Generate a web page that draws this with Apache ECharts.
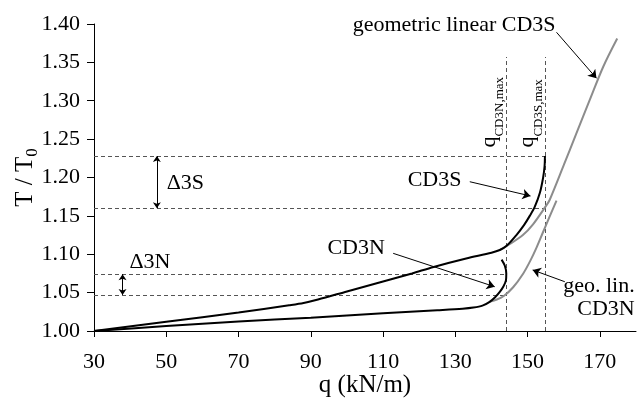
<!DOCTYPE html>
<html>
<head>
<meta charset="utf-8">
<script src="https://cdn.jsdelivr.net/npm/echarts@6/dist/echarts.min.js"></script>
<style>
  html, body { margin: 0; padding: 0; background: #fff; }
  #chart { width: 643px; height: 398px; }
</style>
</head>
<body>
<div id="chart"></div>
<script>
// Axis ticks
const xTicks = [30, 50, 70, 90, 110, 130, 150, 170];

// CD3S (nonlinear analysis)
const cd3sQ = [30, 50, 70, 84, 88, 92, 100, 110, 118, 124, 133, 140, 142.3, 144.2, 146.9, 149, 150.6, 152, 153.4, 154.3, 154.7, 154.8];
const cd3sT = [1.000, 1.012, 1.024, 1.0335, 1.0365, 1.041, 1.0515, 1.0645, 1.075, 1.0835, 1.0945, 1.102, 1.1055, 1.111, 1.125, 1.138, 1.150, 1.162, 1.180, 1.200, 1.215, 1.228];

// CD3N (nonlinear analysis)
const cd3nQ = [30, 50, 70, 90, 110, 125, 132, 135, 137.5, 139.5, 141, 142.3, 143.3, 144.0, 144.1, 143.7, 142.8];
const cd3nT = [1.000, 1.0065, 1.0125, 1.0173, 1.023, 1.027, 1.029, 1.0305, 1.033, 1.038, 1.044, 1.051, 1.058, 1.066, 1.075, 1.085, 1.093];

// geometric linear CD3S
const geoCd3sQ = [142.3, 145, 148.7, 151.5, 154.8, 156.1, 160, 163.5, 167.2, 170.9, 174.8];
const geoCd3sT = [1.1055, 1.113, 1.125, 1.139, 1.161, 1.1707, 1.216, 1.2576, 1.301, 1.344, 1.381];

// geometric linear CD3N
const geoCd3nQ = [139.5, 141.5, 143.5, 146, 148.8, 150.8, 152.5, 154.2, 156, 158];
const geoCd3nT = [1.038, 1.041, 1.046, 1.057, 1.075, 1.092, 1.109, 1.128, 1.148, 1.170];

// Load limits and ratio jumps
const qMaxCd3n = 144;
const qMaxCd3s = 155;
const qLimitTop = 1.357;
const delta3s = [1.160, 1.228];
const delta3n = [1.047, 1.074];

const FONT = '"Liberation Serif", "Times New Roman", serif';
const pair = (qs, ts) => qs.map((q, i) => [q, ts[i]]);

// Guide lines (dashed)
const guides = [
  [[30, delta3s[1]], [qMaxCd3s, delta3s[1]]],
  [[30, delta3s[0]], [qMaxCd3s, delta3s[0]]],
  [[30, delta3n[1]], [qMaxCd3n, delta3n[1]]],
  [[30, delta3n[0]], [qMaxCd3n, delta3n[0]]],
  [[qMaxCd3n, 1.0], [qMaxCd3n, qLimitTop]],
  [[qMaxCd3s, 1.0], [qMaxCd3s, qLimitTop]]
];

// Pointer arrows from labels to curves
const pointers = [
  [[158.0, 1.3892], [169.06, 1.3293]],
  [[134.0, 1.1945], [150.8, 1.1759]],
  [[112.8, 1.1012], [140.9, 1.0577]],
  [[160.3, 1.0642], [151.4, 1.0795]]
];
const deltaArrows = [
  [[47.4, delta3s[0]], [47.4, delta3s[1]]],
  [[37.9, delta3n[0]], [37.9, delta3n[1]]]
];

// Text annotations anchored in data space
const annotations = [
  { text: 'geometric linear CD3S', q: 101.6, t: 1.3983, align: 'left' },
  { text: 'CD3S', q: 131.7, t: 1.1959, align: 'right' },
  { text: 'CD3N', q: 110.5, t: 1.1081, align: 'right' },
  { text: 'geo. lin.', q: 179.65, t: 1.0582, align: 'right' },
  { text: 'CD3N', q: 179.65, t: 1.0278, align: 'right' },
  { text: '\u03943S', q: 50.1, t: 1.1928, align: 'left' },
  { text: '\u03943N', q: 39.8, t: 1.0895, align: 'left' },
  { text: '{m|q}{s|CD3N,max}', q: 139.3, t: 1.239, align: 'left', vertical: true },
  { text: '{m|q}{s|CD3S,max}', q: 149.9, t: 1.239, align: 'left', vertical: true }
];

const curve = (data, color) => ({
  type: 'line',
  data: data,
  showSymbol: false,
  smooth: 0.3,
  lineStyle: { color: color, width: 2 },
  silent: true,
  z: 3
});

const option = {
  animation: false,
  backgroundColor: '#fff',
  grid: { left: 94, right: 7, top: 24, bottom: 67, containLabel: false, outerBoundsMode: 'none' },
  xAxis: {
    type: 'value',
    min: 30,
    max: 180,
    axisLine: { show: true, lineStyle: { color: '#000', width: 1 } },
    axisTick: { show: true, customValues: xTicks, length: 6, lineStyle: { color: '#000', width: 1 } },
    axisLabel: { customValues: xTicks, margin: 20, color: '#000', fontSize: 22, fontFamily: FONT },
    splitLine: { show: false },
    name: 'q (kN/m)',
    nameLocation: 'middle',
    nameGap: 42,
    nameMoveOverlap: false,
    nameTextStyle: { color: '#000', fontSize: 25, fontFamily: FONT }
  },
  yAxis: {
    type: 'value',
    min: 1.0,
    max: 1.4,
    interval: 0.05,
    axisLine: { show: true, lineStyle: { color: '#000', width: 1 } },
    axisTick: { show: true, length: 7, lineStyle: { color: '#000', width: 1 } },
    axisLabel: {
      margin: 14, color: '#000', fontSize: 22, fontFamily: FONT,
      formatter: v => v.toFixed(2)
    },
    splitLine: { show: false },
    name: '{a|T / T}{b|0}',
    nameLocation: 'middle',
    nameGap: 53,
    nameMoveOverlap: false,
    nameTextStyle: {
      color: '#000', fontSize: 25, fontFamily: FONT,
      rich: {
        a: { fontSize: 25, fontFamily: FONT, color: '#000' },
        b: { fontSize: 17, fontFamily: FONT, color: '#000', padding: [15, 0, 0, 0] }
      }
    }
  },
  series: [
    {
      type: 'lines',
      coordinateSystem: 'cartesian2d',
      data: guides.map(c => ({ coords: c })),
      symbol: 'none',
      lineStyle: { color: '#555', width: 1, type: [4, 3], opacity: 1 },
      silent: true,
      z: 1
    },
    curve(pair(geoCd3sQ, geoCd3sT), '#8c8c8c'),
    curve(pair(geoCd3nQ, geoCd3nT), '#8c8c8c'),
    curve(pair(cd3sQ, cd3sT), '#000'),
    curve(pair(cd3nQ, cd3nT), '#000'),
    {
      type: 'lines',
      coordinateSystem: 'cartesian2d',
      data: pointers.map(c => ({ coords: c })),
      symbol: ['none', 'arrow'],
      symbolSize: 8,
      lineStyle: { color: '#000', width: 1, opacity: 1 },
      silent: true,
      z: 4
    },
    {
      type: 'lines',
      coordinateSystem: 'cartesian2d',
      data: deltaArrows.map(c => ({ coords: c })),
      symbol: ['arrow', 'arrow'],
      symbolSize: 6,
      lineStyle: { color: '#000', width: 1, opacity: 1 },
      silent: true,
      z: 4
    }
  ]
};

const chart = echarts.init(document.getElementById('chart'));
chart.setOption(option);

const rich = {
  m: { fontSize: 22, fontFamily: FONT, fill: '#000' },
  s: { fontSize: 13, fontFamily: FONT, fill: '#000', padding: [22, 0, 0, 0] }
};

chart.setOption({
  graphic: annotations.map(a => {
    const [x, y] = chart.convertToPixel({ gridIndex: 0 }, [a.q, a.t]);
    return {
      type: 'text',
      x: x,
      y: y,
      rotation: a.vertical ? Math.PI / 2 : 0,
      silent: true,
      z: 10,
      style: {
        text: a.text,
        fontSize: 22,
        fontFamily: FONT,
        fill: '#000',
        align: a.align,
        verticalAlign: 'middle',
        rich: a.vertical ? rich : undefined
      }
    };
  })
});
</script>
</body>
</html>
